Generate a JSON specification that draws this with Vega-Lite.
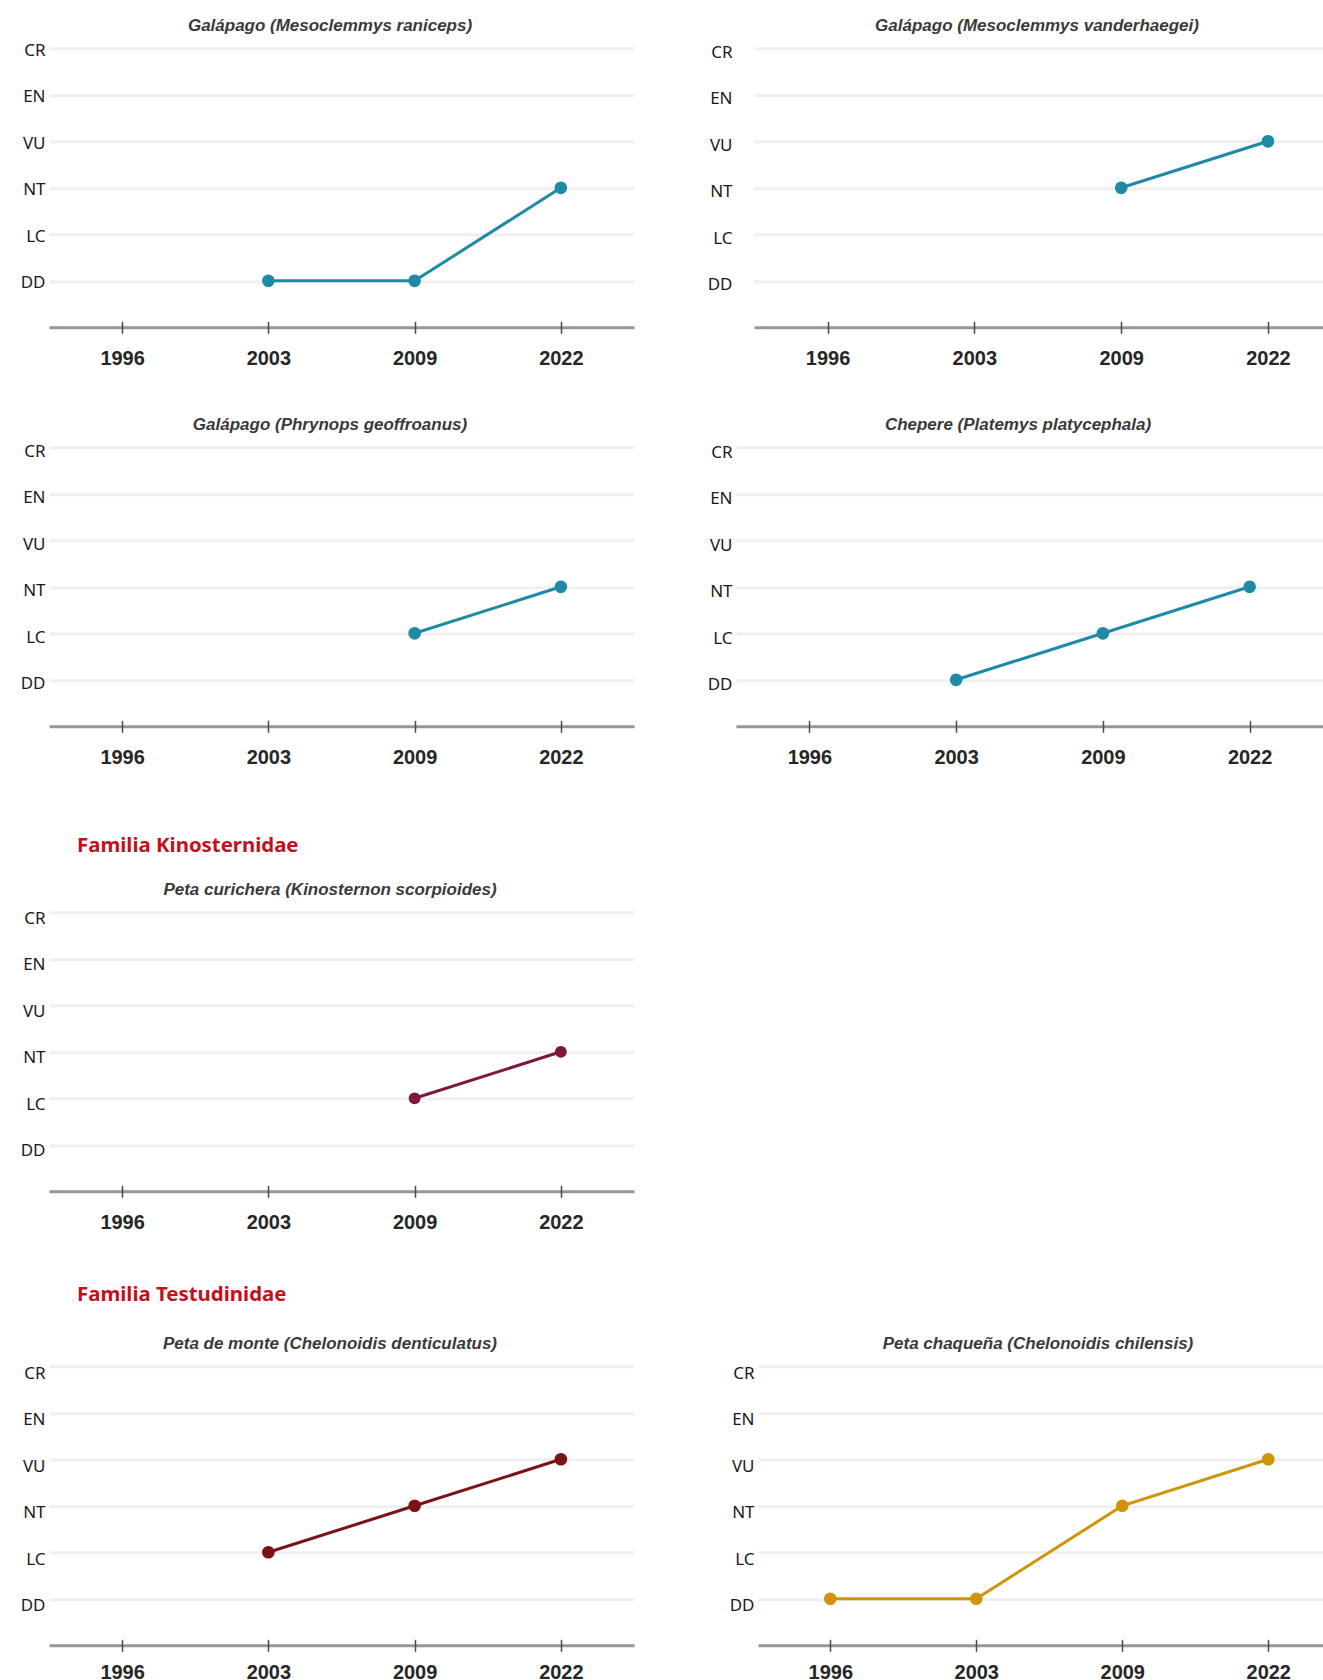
{
  "$schema": "https://vega.github.io/schema/vega-lite/v6.json",
  "padding": {"top": 16.3, "left": 0, "right": 0, "bottom": 0},
  "background": "white",
  "datasets": {
    "iucn": [
      {"species": "Galápago (Mesoclemmys raniceps)", "year": "2003", "status": "DD"},
      {"species": "Galápago (Mesoclemmys raniceps)", "year": "2009", "status": "DD"},
      {"species": "Galápago (Mesoclemmys raniceps)", "year": "2022", "status": "NT"},
      {"species": "Galápago (Mesoclemmys vanderhaegei)", "year": "2009", "status": "NT"},
      {"species": "Galápago (Mesoclemmys vanderhaegei)", "year": "2022", "status": "VU"},
      {"species": "Galápago (Phrynops geoffroanus)", "year": "2009", "status": "LC"},
      {"species": "Galápago (Phrynops geoffroanus)", "year": "2022", "status": "NT"},
      {"species": "Chepere (Platemys platycephala)", "year": "2003", "status": "DD"},
      {"species": "Chepere (Platemys platycephala)", "year": "2009", "status": "LC"},
      {"species": "Chepere (Platemys platycephala)", "year": "2022", "status": "NT"},
      {"species": "Peta curichera (Kinosternon scorpioides)", "year": "2009", "status": "LC"},
      {"species": "Peta curichera (Kinosternon scorpioides)", "year": "2022", "status": "NT"},
      {"species": "Peta de monte (Chelonoidis denticulatus)", "year": "2003", "status": "LC"},
      {"species": "Peta de monte (Chelonoidis denticulatus)", "year": "2009", "status": "NT"},
      {"species": "Peta de monte (Chelonoidis denticulatus)", "year": "2022", "status": "VU"},
      {"species": "Peta chaqueña (Chelonoidis chilensis)", "year": "1996", "status": "DD"},
      {"species": "Peta chaqueña (Chelonoidis chilensis)", "year": "2003", "status": "DD"},
      {"species": "Peta chaqueña (Chelonoidis chilensis)", "year": "2009", "status": "NT"},
      {"species": "Peta chaqueña (Chelonoidis chilensis)", "year": "2022", "status": "VU"}
    ]
  },
  "spacing": 0,
  "vconcat": [
    {
      "spacing": 71,
      "hconcat": [
        {
          "width": 585, "height": 279,
          "data": {"name": "iucn"},
          "transform": [{"filter": {"field": "species", "equal": "Galápago (Mesoclemmys raniceps)"}}],
          "title": {"text": "Galápago (Mesoclemmys raniceps)", "frame": "group", "dx": -11.5, "offset": 6.5},
          "encoding": {
            "x": {"field": "year", "type": "ordinal", "title": null, "scale": {"type": "point", "domain": ["1996", "2003", "2009", "2022"], "padding": 0.5}, "axis": {"labelPadding": 15, "minExtent": 93.3, "maxExtent": 200}},
            "y": {"field": "status", "type": "ordinal", "title": null, "scale": {"type": "point", "domain": ["CR", "EN", "VU", "NT", "LC", "DD", ""], "padding": 0}, "axis": {"labelOffset": 2, "labelPadding": 4, "gridColor": {"condition": {"test": "datum.value === ''", "value": "#9c9396"}, "value": "#efefef"}}}
          },
          "layer": [
            {"mark": {"type": "line", "color": "#1f8aa6", "strokeWidth": 3}},
            {"mark": {"type": "circle", "color": "#1f8aa6", "size": 160, "opacity": 1}}
          ]
        },
        {
          "width": 569, "height": 279,
          "data": {"name": "iucn"},
          "transform": [{"filter": {"field": "species", "equal": "Galápago (Mesoclemmys vanderhaegei)"}}],
          "title": {"text": "Galápago (Mesoclemmys vanderhaegei)", "frame": "group", "dx": -1.5, "offset": 8.5},
          "encoding": {
            "x": {"field": "year", "type": "ordinal", "title": null, "scale": {"type": "point", "domain": ["1996", "2003", "2009", "2022"], "padding": 0.438, "align": 0.572}, "axis": {"labelPadding": 15, "minExtent": 93.3, "maxExtent": 200}},
            "y": {"field": "status", "type": "ordinal", "title": null, "scale": {"type": "point", "domain": ["CR", "EN", "VU", "NT", "LC", "DD", ""], "padding": 0}, "axis": {"labelOffset": 4, "labelPadding": 22, "gridColor": {"condition": {"test": "datum.value === ''", "value": "#9c9396"}, "value": "#efefef"}}}
          },
          "layer": [
            {"mark": {"type": "line", "color": "#1f8aa6", "strokeWidth": 3}},
            {"mark": {"type": "circle", "color": "#1f8aa6", "size": 160, "opacity": 1}}
          ]
        }
      ]
    },
    {
      "spacing": 53,
      "hconcat": [
        {
          "width": 585, "height": 279,
          "data": {"name": "iucn"},
          "transform": [{"filter": {"field": "species", "equal": "Galápago (Phrynops geoffroanus)"}}],
          "title": {"text": "Galápago (Phrynops geoffroanus)", "frame": "group", "dx": -11.5, "offset": 8.5},
          "encoding": {
            "x": {"field": "year", "type": "ordinal", "title": null, "scale": {"type": "point", "domain": ["1996", "2003", "2009", "2022"], "padding": 0.5}, "axis": {"labelPadding": 15, "minExtent": 114.8, "maxExtent": 200}},
            "y": {"field": "status", "type": "ordinal", "title": null, "scale": {"type": "point", "domain": ["CR", "EN", "VU", "NT", "LC", "DD", ""], "padding": 0}, "axis": {"labelOffset": 4, "labelPadding": 4, "gridColor": {"condition": {"test": "datum.value === ''", "value": "#9c9396"}, "value": "#efefef"}}}
          },
          "layer": [
            {"mark": {"type": "line", "color": "#1f8aa6", "strokeWidth": 3}},
            {"mark": {"type": "circle", "color": "#1f8aa6", "size": 160, "opacity": 1}}
          ]
        },
        {
          "width": 587, "height": 279,
          "data": {"name": "iucn"},
          "transform": [{"filter": {"field": "species", "equal": "Chepere (Platemys platycephala)"}}],
          "title": {"text": "Chepere (Platemys platycephala)", "frame": "group", "dx": -11.5, "offset": 9.5},
          "encoding": {
            "x": {"field": "year", "type": "ordinal", "title": null, "scale": {"type": "point", "domain": ["1996", "2003", "2009", "2022"], "padding": 0.5}, "axis": {"labelPadding": 15, "minExtent": 114.8, "maxExtent": 200}},
            "y": {"field": "status", "type": "ordinal", "title": null, "scale": {"type": "point", "domain": ["CR", "EN", "VU", "NT", "LC", "DD", ""], "padding": 0}, "axis": {"labelOffset": 5, "labelPadding": 4, "gridColor": {"condition": {"test": "datum.value === ''", "value": "#9c9396"}, "value": "#efefef"}}}
          },
          "layer": [
            {"mark": {"type": "line", "color": "#1f8aa6", "strokeWidth": 3}},
            {"mark": {"type": "circle", "color": "#1f8aa6", "size": 160, "opacity": 1}}
          ]
        }
      ]
    },
    {
      "title": {"text": "Familia Kinosternidae", "anchor": "start", "frame": "bounds", "dx": 77, "offset": 24.6, "font": "Noto Sans", "fontStyle": "normal", "fontWeight": "bold", "fontSize": 20.4, "color": "#c4101c"},
      "hconcat": [
        {
          "width": 585, "height": 279,
          "data": {"name": "iucn"},
          "transform": [{"filter": {"field": "species", "equal": "Peta curichera (Kinosternon scorpioides)"}}],
          "title": {"text": "Peta curichera (Kinosternon scorpioides)", "frame": "group", "dx": -11.5, "offset": 10.5},
          "encoding": {
            "x": {"field": "year", "type": "ordinal", "title": null, "scale": {"type": "point", "domain": ["1996", "2003", "2009", "2022"], "padding": 0.5}, "axis": {"labelPadding": 15, "minExtent": 99.2, "maxExtent": 200}},
            "y": {"field": "status", "type": "ordinal", "title": null, "scale": {"type": "point", "domain": ["CR", "EN", "VU", "NT", "LC", "DD", ""], "padding": 0}, "axis": {"labelOffset": 6, "labelPadding": 4, "gridColor": {"condition": {"test": "datum.value === ''", "value": "#9c9396"}, "value": "#efefef"}}}
          },
          "layer": [
            {"mark": {"type": "line", "color": "#7d1740", "strokeWidth": 3}},
            {"mark": {"type": "circle", "color": "#7d1740", "size": 140, "opacity": 1}}
          ]
        }
      ]
    },
    {
      "title": {"text": "Familia Testudinidae", "anchor": "start", "frame": "bounds", "dx": 77, "offset": 28.9, "font": "Noto Sans", "fontStyle": "normal", "fontWeight": "bold", "fontSize": 20.4, "color": "#c4101c"},
      "spacing": 75,
      "hconcat": [
        {
          "width": 585, "height": 279,
          "data": {"name": "iucn"},
          "transform": [{"filter": {"field": "species", "equal": "Peta de monte (Chelonoidis denticulatus)"}}],
          "title": {"text": "Peta de monte (Chelonoidis denticulatus)", "frame": "group", "dx": -11.5, "offset": 11.5},
          "encoding": {
            "x": {"field": "year", "type": "ordinal", "title": null, "scale": {"type": "point", "domain": ["1996", "2003", "2009", "2022"], "padding": 0.5}, "axis": {"labelPadding": 11, "maxExtent": 200}},
            "y": {"field": "status", "type": "ordinal", "title": null, "scale": {"type": "point", "domain": ["CR", "EN", "VU", "NT", "LC", "DD", ""], "padding": 0}, "axis": {"labelOffset": 7, "labelPadding": 4, "gridColor": {"condition": {"test": "datum.value === ''", "value": "#9c9396"}, "value": "#efefef"}}}
          },
          "layer": [
            {"mark": {"type": "line", "color": "#7b1214", "strokeWidth": 3}},
            {"mark": {"type": "circle", "color": "#7b1214", "size": 160, "opacity": 1}}
          ]
        },
        {
          "width": 565, "height": 279,
          "data": {"name": "iucn"},
          "transform": [{"filter": {"field": "species", "equal": "Peta chaqueña (Chelonoidis chilensis)"}}],
          "title": {"text": "Peta chaqueña (Chelonoidis chilensis)", "frame": "group", "dx": -2.5, "offset": 11.5},
          "encoding": {
            "x": {"field": "year", "type": "ordinal", "title": null, "scale": {"type": "point", "domain": ["1996", "2003", "2009", "2022"], "padding": 0.435, "align": 0.569}, "axis": {"labelPadding": 11, "maxExtent": 200}},
            "y": {"field": "status", "type": "ordinal", "title": null, "scale": {"type": "point", "domain": ["CR", "EN", "VU", "NT", "LC", "DD", ""], "padding": 0}, "axis": {"labelOffset": 7, "labelPadding": 4, "gridColor": {"condition": {"test": "datum.value === ''", "value": "#9c9396"}, "value": "#efefef"}}}
          },
          "layer": [
            {"mark": {"type": "line", "color": "#cf9408", "strokeWidth": 3}},
            {"mark": {"type": "circle", "color": "#cf9408", "size": 160, "opacity": 1}}
          ]
        }
      ]
    }
  ],
  "config": {
    "view": {"stroke": null},
    "axisX": {"domain": false, "grid": false, "ticks": true, "tickSize": 12, "tickColor": "#4a4a4a", "tickWidth": 1.5, "offset": -6, "labelFont": "Liberation Sans", "labelFontWeight": "bold", "labelFontSize": 20, "labelColor": "#262626", "labelAngle": 0, "zindex": 1},
    "axisY": {"domain": false, "ticks": false, "grid": true, "gridWidth": 3, "labelFont": "Noto Sans", "labelFontSize": 17, "labelColor": "#1a1a1a", "minExtent": 49, "maxExtent": 49},
    "title": {"font": "Liberation Sans", "fontStyle": "italic", "fontWeight": "bold", "fontSize": 17, "color": "#3a3a3a", "anchor": "middle"}
  }
}
